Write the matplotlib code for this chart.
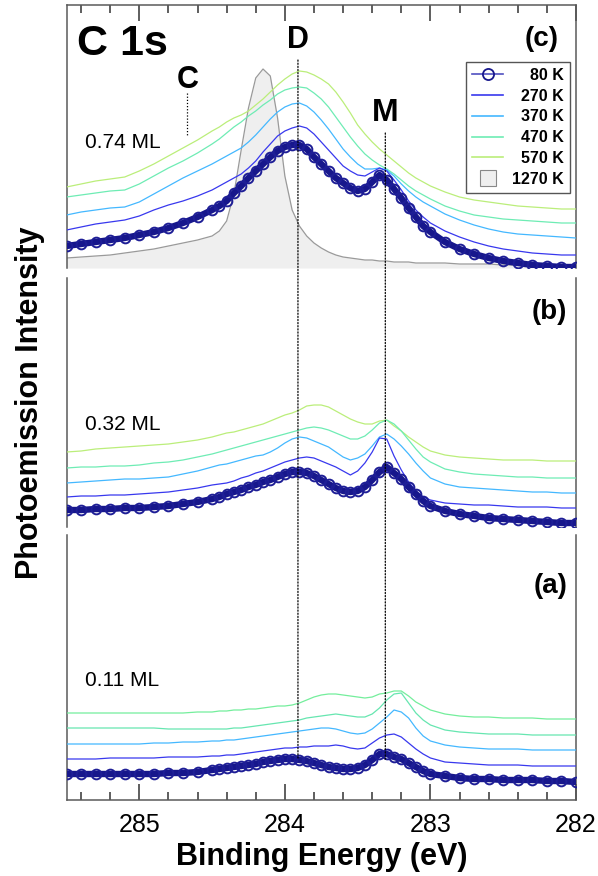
import matplotlib
matplotlib.use('Agg')
import matplotlib.pyplot as plt
from matplotlib.lines import Line2D
from matplotlib.patches import ConnectionPatch
from matplotlib.ticker import MultipleLocator

plt.rcParams['font.family'] = ['Liberation Sans', 'DejaVu Sans']

# binding energy grid (eV), finer across the D / M region
energy = [285.5, 285.4, 285.3, 285.2, 285.1, 285.0, 284.9, 284.8, 284.7, 284.6,
          284.5, 284.45, 284.4, 284.35, 284.3, 284.25, 284.2, 284.15, 284.1, 284.05,
          284.0, 283.95, 283.9, 283.85, 283.8, 283.75, 283.7, 283.65, 283.6, 283.55,
          283.5, 283.45, 283.4, 283.35, 283.3, 283.25, 283.2, 283.15, 283.1, 283.05,
          283.0, 282.9, 282.8, 282.7, 282.6, 282.5, 282.4, 282.3, 282.2, 282.1, 282.0]

temps = ['80 K', '270 K', '370 K', '470 K', '570 K', '1270 K']
coverages = ['0.11 ML', '0.32 ML', '0.74 ML']

# (c) 0.74 ML, stacked intensities (offset included)
c_80 = [22, 24, 26, 28, 30, 33, 36, 40, 45, 51,
        58, 62, 67, 75, 82, 90, 97, 104, 111, 117,
        121, 123, 123, 119, 111, 104, 97, 90, 85, 80,
        77, 79, 86, 93, 88, 79, 70, 60, 51, 42,
        36, 26, 19, 14, 10, 7, 5, 3, 2, 1, 1]
c_270 = [38, 41, 44, 46, 48, 52, 58, 63, 67, 72,
         78, 82, 86, 90, 94, 100, 107, 116, 124, 132,
         137, 140, 142, 140, 134, 126, 118, 110, 102, 97,
         93, 92, 96, 100, 97, 88, 78, 67, 58, 51,
         45, 37, 31, 26, 22, 19, 17, 15, 14, 13, 13]
c_370 = [53, 56, 58, 60, 61, 66, 74, 82, 90, 97,
         104, 108, 112, 116, 120, 126, 133, 141, 149, 156,
         161, 164, 165, 162, 156, 148, 139, 129, 119, 111,
         104, 99, 99, 100, 98, 92, 84, 77, 71, 66,
         62, 54, 48, 43, 39, 36, 34, 33, 32, 31, 30]
c_470 = [71, 73, 75, 77, 78, 84, 92, 100, 107, 115,
         124, 129, 135, 141, 146, 152, 157, 163, 168, 174,
         178, 180, 181, 180, 175, 169, 161, 151, 141, 131,
         122, 114, 108, 103, 99, 94, 88, 82, 77, 73,
         69, 62, 57, 53, 51, 49, 48, 47, 46, 45, 45]
c_570 = [81, 84, 87, 89, 91, 97, 104, 112, 120, 128,
         137, 141, 146, 150, 153, 157, 163, 169, 176, 183,
         189, 194, 197, 196, 193, 189, 184, 176, 166, 155,
         143, 134, 126, 119, 113, 107, 101, 95, 90, 86,
         82, 76, 71, 68, 66, 64, 62, 61, 60, 59, 59]
c_1270 = [10, 11, 12, 13, 15, 17, 19, 22, 25, 28,
          32, 37, 47, 74, 118, 160, 190, 199, 192, 150,
          92, 58, 42, 32, 25, 20, 16, 13, 11, 10,
          9, 8, 8, 7, 7, 6, 6, 6, 5, 5,
          5, 5, 4, 4, 4, 3, 3, 3, 3, 3, 3]

# (b) 0.32 ML
b_80 = [17, 17, 18, 18, 19, 19, 20, 21, 23, 25,
        28, 30, 33, 35, 37, 40, 42, 45, 47, 50,
        53, 55, 55, 54, 51, 47, 43, 39, 36, 35,
        36, 40, 47, 55, 60, 54, 48, 40, 33, 26,
        21, 16, 13, 11, 9, 8, 7, 6, 5, 4, 4]
b_270 = [30, 31, 31, 32, 32, 33, 34, 35, 37, 39,
         42, 43, 44, 46, 49, 51, 54, 56, 59, 62,
         65, 67, 69, 70, 69, 66, 63, 60, 56, 52,
         56, 64, 75, 89, 88, 71, 57, 45, 36, 30,
         27, 24, 23, 22, 22, 21, 20, 20, 20, 19, 19]
b_370 = [44, 45, 46, 47, 48, 48, 49, 50, 53, 56,
         60, 62, 63, 65, 67, 69, 71, 72, 75, 79,
         84, 88, 90, 89, 86, 83, 80, 75, 70, 67,
         69, 73, 81, 90, 93, 88, 81, 73, 64, 56,
         49, 43, 40, 39, 38, 37, 36, 35, 35, 34, 34]
b_470 = [59, 60, 60, 61, 61, 62, 64, 65, 67, 70,
         73, 75, 77, 79, 81, 83, 85, 87, 89, 91,
         93, 95, 97, 99, 100, 99, 97, 94, 91, 88,
         88, 91, 97, 104, 107, 103, 96, 87, 78, 70,
         65, 58, 55, 53, 52, 51, 50, 50, 49, 49, 49]
b_570 = [75, 76, 78, 79, 80, 81, 82, 83, 85, 87,
         90, 92, 94, 95, 97, 99, 101, 103, 106, 109,
         112, 114, 117, 121, 122, 122, 120, 116, 112, 108,
         105, 103, 103, 106, 107, 101, 96, 90, 85, 80,
         76, 72, 70, 69, 68, 67, 67, 67, 66, 66, 66]

# (a) 0.11 ML
a_80 = [26, 26, 26, 26, 26, 26, 26, 27, 27, 28,
        30, 31, 32, 33, 34, 35, 36, 38, 39, 40,
        41, 41, 40, 39, 37, 35, 33, 32, 31, 31,
        32, 35, 40, 46, 46, 43, 41, 37, 33, 29,
        26, 24, 22, 21, 21, 20, 20, 20, 19, 19, 18]
a_270 = [41, 41, 41, 42, 42, 42, 42, 43, 43, 43,
         44, 44, 45, 45, 46, 47, 48, 49, 50, 51,
         52, 52, 53, 53, 54, 54, 54, 55, 54, 52,
         51, 52, 57, 62, 65, 66, 63, 57, 51, 46,
         42, 38, 37, 36, 35, 35, 35, 34, 34, 34, 34]
a_370 = [56, 56, 56, 56, 56, 56, 57, 57, 58, 58,
         59, 59, 60, 60, 61, 62, 63, 64, 65, 66,
         67, 68, 69, 70, 71, 72, 72, 71, 69, 67,
         66, 67, 71, 77, 83, 90, 88, 82, 72, 64,
         59, 55, 53, 52, 51, 51, 51, 50, 50, 50, 50]
a_470 = [72, 72, 72, 72, 72, 72, 72, 71, 71, 71,
         71, 71, 71, 72, 72, 73, 74, 75, 76, 77,
         78, 79, 80, 82, 83, 84, 85, 86, 85, 84,
         83, 83, 86, 92, 100, 106, 107, 97, 87, 80,
         75, 70, 68, 67, 66, 66, 66, 65, 65, 65, 65]
a_570 = [87, 87, 87, 87, 87, 87, 87, 87, 87, 88,
         88, 89, 89, 90, 90, 91, 91, 92, 93, 94,
         94, 95, 97, 100, 103, 105, 106, 106, 105, 104,
         103, 102, 103, 106, 107, 109, 109, 104, 98, 94,
         90, 86, 84, 83, 83, 82, 82, 82, 81, 81, 81]

navy = '#17178c'
line_colors = ['#5050c0', '#3838ee', '#44b8ff', '#6eecb4', '#bbee7a']
a_colors = ['#5050c0', '#3838ee', '#44b8ff', '#66e6b0', '#74ee9c']
gray_line, gray_fill = '#9a9a9a', '#efefef'
spine_col = '#5a5a5a'

W, H = 598, 876


def frame(left, top, right, bottom):
    # axes rectangle given by pixel edges
    return [left / W, 1 - bottom / H, (right - left) / W, (bottom - top) / H]


fig = plt.figure(figsize=(W / 100, H / 100), dpi=100)
ax_c = fig.add_axes(frame(66.5, 5, 576, 268))
ax_b = fig.add_axes(frame(66.5, 278, 576, 527))
ax_a = fig.add_axes(frame(66.5, 535, 576, 800))


def draw_panel(ax, series, colors, height):
    ax.set_xlim(285.5, 282.0)
    ax.set_ylim(0, height)
    ax.set_yticks([])
    ax.patch.set_alpha(0)
    # warmer spectra first so 80 K ends up on top
    for vals, col in zip(series[:0:-1], colors[:0:-1]):
        ax.plot(energy, vals, color=col, lw=0.9, zorder=3)
    ax.plot(energy, series[0], color=navy, lw=4.6, zorder=4)
    ax.plot(energy, series[0], ls='none', marker='o', ms=7, mfc='none',
            mec='#1e1e96', mew=1.4, zorder=5)
    for side in ['left', 'right', 'top', 'bottom']:
        ax.spines[side].set_color(spine_col)
        ax.spines[side].set_linewidth(1.1)


draw_panel(ax_c, [c_80, c_270, c_370, c_470, c_570], line_colors, 263)
draw_panel(ax_b, [b_80, b_270, b_370, b_470, b_570], line_colors, 249)
draw_panel(ax_a, [a_80, a_270, a_370, a_470, a_570], a_colors, 265)

# 1270 K reference in (c)
ax_c.fill_between(energy, 0, c_1270, color=gray_fill, lw=0, zorder=1)
ax_c.plot(energy, c_1270, color=gray_line, lw=0.9, zorder=2)

# frames: (c) open at the bottom, (b) sides only, (a) open at the top
ax_c.spines['bottom'].set_visible(False)
ax_b.spines['bottom'].set_visible(False)
ax_b.spines['top'].set_visible(False)
ax_a.spines['top'].set_visible(False)

for ax in (ax_c, ax_a):
    ax.xaxis.set_major_locator(MultipleLocator(1))
    ax.xaxis.set_minor_locator(MultipleLocator(0.2))
    ax.tick_params(axis='x', which='major', direction='in', length=11.5,
                   width=1.1, color='#333333')
    ax.tick_params(axis='x', which='minor', direction='in', length=5.8,
                   width=1.1, color='#333333')
ax_c.xaxis.set_ticks_position('top')
ax_c.tick_params(axis='x', which='both', labeltop=False, labelbottom=False)
ax_b.set_xticks([])
ax_a.xaxis.set_ticks_position('bottom')
ax_a.tick_params(axis='x', which='major', labelsize=18, pad=9)
ax_a.set_xticks([285, 284, 283, 282])
ax_a.set_xticklabels(['285', '284', '283', '282'])

# panel annotations
ax_c.text(285.43, 213, 'C 1s', fontsize=31, fontweight='bold', ha='left', va='baseline')
ax_c.text(284.67, 180, 'C', fontsize=22, fontweight='bold', ha='center', va='baseline')
ax_c.text(283.91, 220, 'D', fontsize=22, fontweight='bold', ha='center', va='baseline')
ax_c.text(283.31, 147, 'M', fontsize=23, fontweight='bold', ha='center', va='baseline')
ax_c.text(282.12, 229, '(c)', fontsize=20, fontweight='bold', ha='right', va='center')
ax_b.text(282.06, 215, '(b)', fontsize=20, fontweight='bold', ha='right', va='center')
ax_a.text(282.06, 214, '(a)', fontsize=20, fontweight='bold', ha='right', va='center')
ax_c.text(285.37, 125, coverages[2], fontsize=15, ha='left', va='center')
ax_b.text(285.37, 103, coverages[1], fontsize=15, ha='left', va='center')
ax_a.text(285.37, 120, coverages[0], fontsize=15, ha='left', va='center')

# peak markers: C inside (c), D and M running down to the 80 K trace of (a)
dots = (0, (1, 1.5))
ax_c.plot([284.67, 284.67], [175, 133], color='k', lw=0.9, ls=dots, zorder=6)
for e, top, bottom in [(283.91, 208, 42), (283.31, 135, 40)]:
    con = ConnectionPatch(xyA=(e, top), coordsA=ax_c.transData,
                          xyB=(e, bottom), coordsB=ax_a.transData,
                          color='k', lw=0.9, linestyle=dots)
    fig.add_artist(con)

# legend
handles = [Line2D([], [], color=line_colors[0], lw=1.2, marker='o', ms=8,
                  mfc='none', mec=navy, mew=1.3)]
handles += [Line2D([], [], color=c, lw=1.2) for c in line_colors[1:]]
handles.append(Line2D([], [], ls='none', marker='s', ms=11, mfc=gray_fill,
                      mec='#888888', mew=0.8))
leg = ax_c.legend(handles, temps, loc='upper right', bbox_to_anchor=(0.988, 0.783),
                  prop={'weight': 'bold', 'size': 11.5}, frameon=True,
                  fancybox=False, edgecolor='#555555', framealpha=1,
                  handlelength=1.95, handletextpad=0.55, labelspacing=0.36,
                  borderpad=0.37, borderaxespad=0)
leg.get_frame().set_linewidth(1.0)
leg.set_zorder(10)

# right-align the legend labels against the frame
fig.canvas.draw()
renderer = fig.canvas.get_renderer()
rows = [row for col in leg._legend_handle_box.get_children() for row in col.get_children()]
full = max(sum(ch.get_bbox(renderer).width for ch in r.get_children())
           + r.sep * renderer.points_to_pixels(1.0) for r in rows)
for r in rows:
    r.mode = 'expand'
    r.width = full

fig.text(30 / W, 1 - 403 / H, 'Photoemission Intensity', fontsize=22,
         fontweight='bold', rotation=90, ha='center', va='center')
fig.text(322 / W, 1 - 857 / H, 'Binding Energy (eV)', fontsize=22,
         fontweight='bold', ha='center', va='center')

fig.savefig('out.png', dpi=100)
